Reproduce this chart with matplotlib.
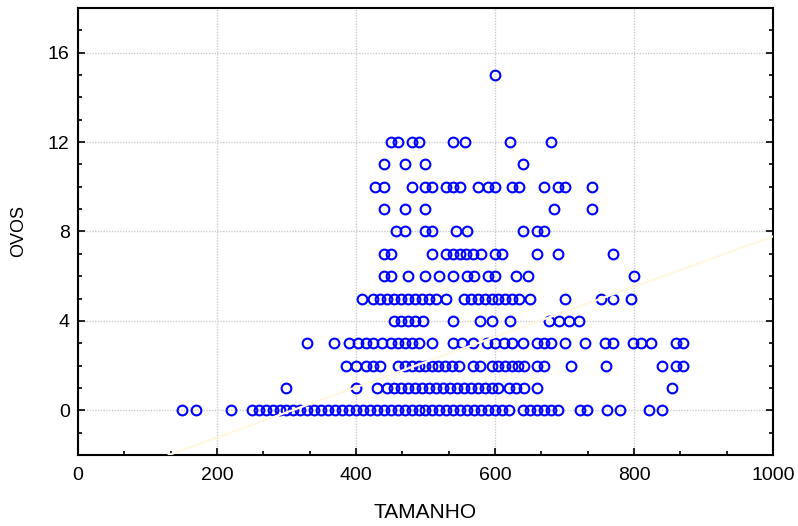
import matplotlib
matplotlib.use("Agg")
import matplotlib.pyplot as plt
from matplotlib.ticker import MultipleLocator
import numpy as np

plt.rcParams['font.family'] = ['Liberation Sans', 'DejaVu Sans']

# TAMANHO values for each OVOS count
tam_ovos0 = [150, 170, 220, 250, 260, 270, 280, 290, 300, 310, 320, 330, 340, 350,
             360, 370, 380, 390, 400, 410, 420, 430, 440, 450, 460, 470, 480, 490,
             500, 510, 520, 530, 540, 550, 560, 570, 580, 590, 600, 610, 620, 640,
             650, 660, 670, 680, 690, 722, 732, 761, 780, 822, 840]
tam_ovos1 = [300, 400, 430, 445, 455, 465, 475, 485, 495, 505, 515, 525, 535, 545,
             555, 565, 575, 585, 595, 605, 620, 630, 642, 660, 855]
tam_ovos2 = [385, 400, 415, 425, 435, 460, 470, 480, 490, 500, 510, 518, 528, 538,
             548, 568, 578, 596, 605, 615, 625, 633, 642, 660, 670, 710, 760, 840,
             860, 870]
tam_ovos3 = [330, 368, 390, 403, 415, 425, 437, 450, 460, 470, 480, 490, 510, 540,
             553, 568, 588, 600, 613, 625, 640, 660, 670, 680, 700, 730, 758, 770,
             798, 810, 825, 860, 870]
tam_ovos4 = [455, 465, 475, 485, 496, 540, 578, 595, 621, 678, 692, 707, 721]
tam_ovos5 = [408, 425, 435, 445, 455, 465, 475, 485, 495, 505, 515, 530, 555, 565,
             575, 585, 595, 605, 615, 625, 635, 650, 700, 752, 770, 795]
tam_ovos6 = [440, 450, 475, 500, 520, 540, 560, 570, 590, 600, 630, 648, 800]
tam_ovos7 = [440, 450, 510, 530, 540, 550, 558, 568, 580, 600, 610, 660, 690, 770]
tam_ovos8 = [458, 470, 500, 510, 544, 560, 640, 660, 670]
tam_ovos9 = [440, 470, 500, 685, 740]
tam_ovos10 = [428, 440, 480, 500, 510, 530, 540, 550, 575, 590, 600, 625, 635, 670,
              690, 700, 740]
tam_ovos11 = [440, 470, 500, 640]
tam_ovos12 = [450, 460, 480, 490, 540, 557, 621, 680]
tam_ovos15 = [600]

rows = {0: tam_ovos0, 1: tam_ovos1, 2: tam_ovos2, 3: tam_ovos3, 4: tam_ovos4,
        5: tam_ovos5, 6: tam_ovos6, 7: tam_ovos7, 8: tam_ovos8, 9: tam_ovos9,
        10: tam_ovos10, 11: tam_ovos11, 12: tam_ovos12, 15: tam_ovos15}

tamanho = np.concatenate([np.array(v, float) for v in rows.values()])
ovos = np.concatenate([np.full(len(v), k, float) for k, v in rows.items()])

# fitted line (intercept, slope) as shown faintly on the chart
fit_intercept = -3.47
fit_slope = 0.01125

fig = plt.figure(figsize=(7.98, 5.26), dpi=100)
ax = fig.add_axes([0.0977, 0.135, 0.8710, 0.850])

ax.plot(tamanho, ovos, 'o', mfc='none', mec='#0000ff', ms=7, mew=1.5,
        linestyle='none', zorder=3)
ax.axline((0, fit_intercept), slope=fit_slope, color='#fff8e4', lw=1.6, zorder=4)

ax.set_xlim(0, 1000)
ax.set_ylim(-2, 18)
ax.xaxis.set_major_locator(MultipleLocator(200))
ax.xaxis.set_minor_locator(MultipleLocator(200 / 3))
ax.yaxis.set_major_locator(MultipleLocator(4))
ax.yaxis.set_minor_locator(MultipleLocator(1))

ax.grid(True, which='major', color='#cccccc', linestyle=(0, (1, 1)), lw=1.0, zorder=1)
ax.tick_params(which='both', direction='in', right=True, top=False,
               labelsize=14, width=1.2, colors='black')
ax.tick_params(axis='x', which='major', length=5, pad=9)
ax.tick_params(axis='y', which='major', length=5, pad=6)
ax.tick_params(which='minor', length=3)
for s in ax.spines.values():
    s.set_linewidth(1.5)

ax.set_xlabel('TAMANHO', fontsize=15, labelpad=13)
ax.set_ylabel('OVOS', fontsize=13, labelpad=15)

fig.savefig('out.png', dpi=100)
